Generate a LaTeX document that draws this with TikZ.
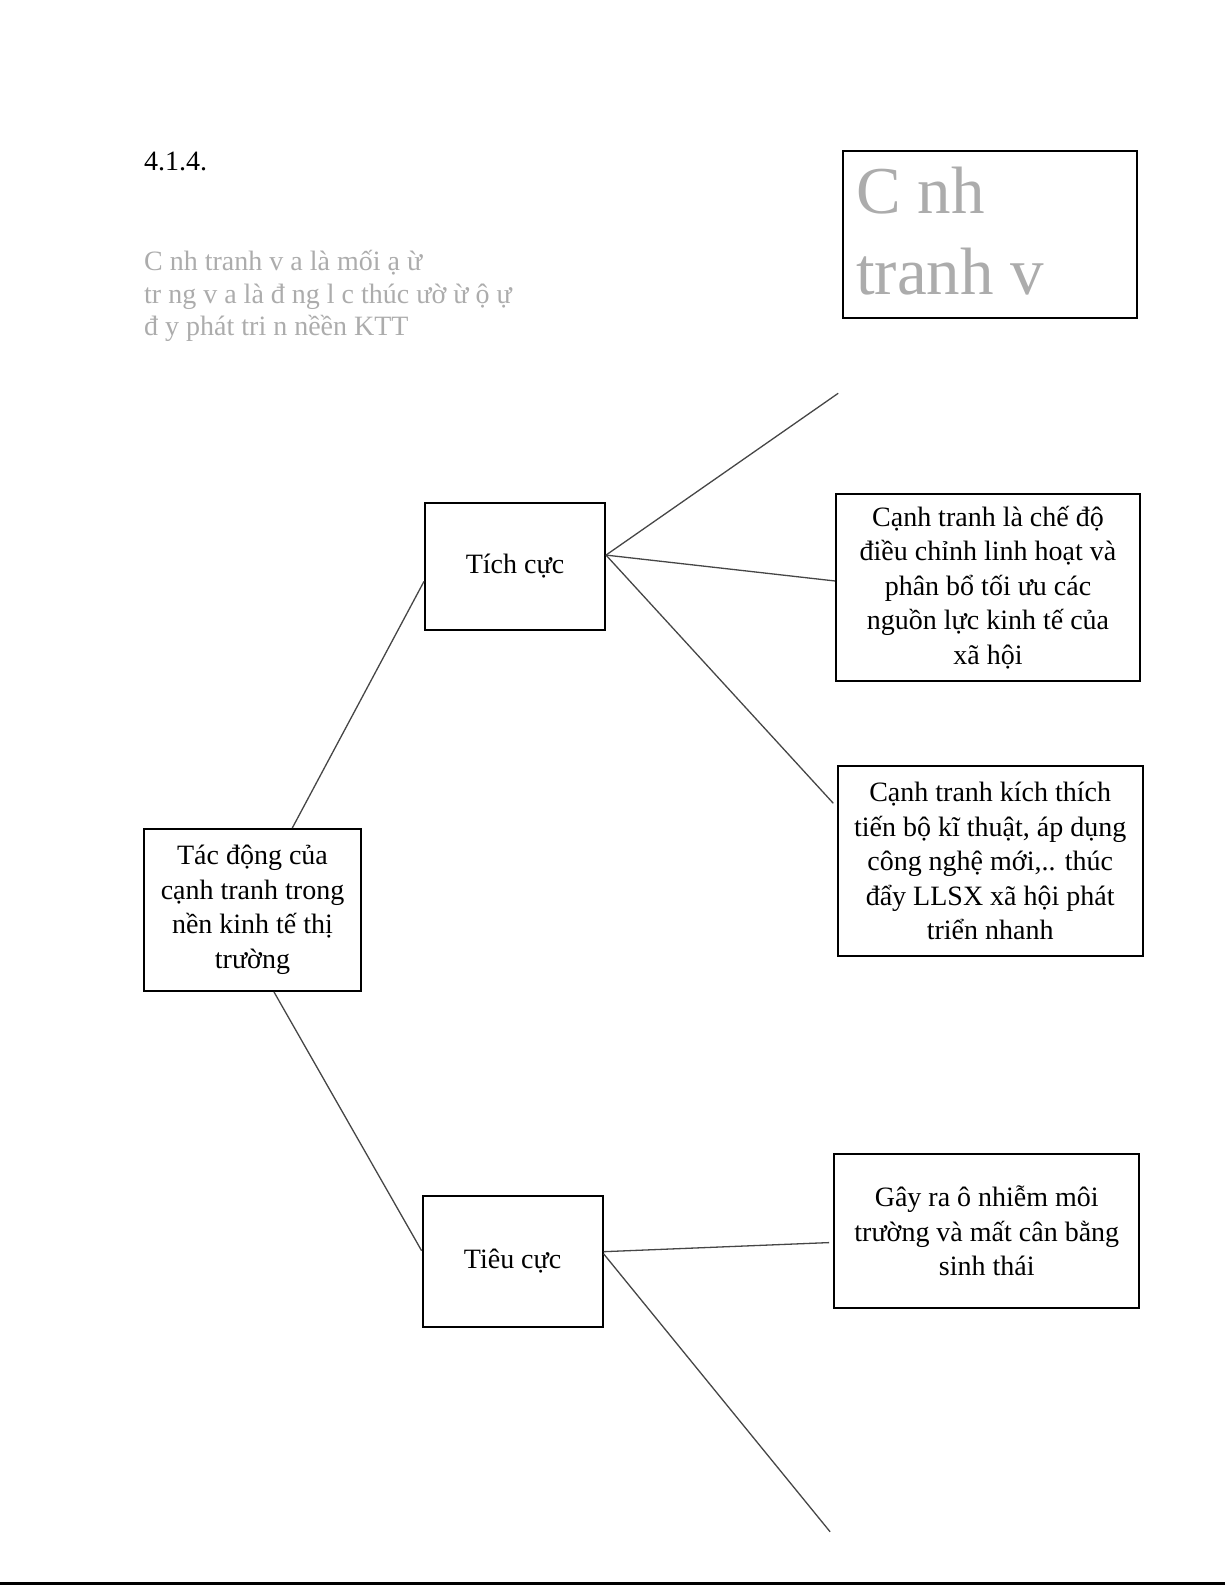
\documentclass[tikz,border=0pt]{standalone}
\usepackage{fontspec}
\setmainfont{Liberation Serif}
\definecolor{ghost}{RGB}{172,172,172}
\definecolor{wire}{RGB}{70,70,70}
\tikzset{
  box/.style={draw=black, line width=2pt, rectangle, inner sep=0pt, align=center,
    font=\fontsize{28}{34.5}\selectfont},
  wirestyle/.style={draw=wire, line width=1.3pt},
}
\begin{document}
\begin{tikzpicture}[x=1pt,y=1pt]
\useasboundingbox (0,0) rectangle (1225,1585);
% header texts
\node[anchor=base west, inner sep=0pt, font=\fontsize{28}{34.5}\selectfont] (num) at (144,1414) {4.1.4.};
\node[anchor=base west, inner sep=0pt, align=left, text=ghost, font=\fontsize{28}{32.4}\selectfont] (para) at (144,1249.5)
  {C nh tranh v a là mối ạ ừ\\tr ng v a là đ ng l c thúc ườ ừ ộ ự\\đ y phát tri n nềền KTT};
% top right gray box
\node[box, minimum width=293.5pt, minimum height=166.6pt] (b1) at (989.8,1350.7) {};
\node[anchor=base west, inner sep=0pt, align=left, text=ghost, font=\fontsize{67}{81}\selectfont] (b1t) at (856,1290)
  {C nh\\tranh v};
% diagram boxes
\node[box, minimum width=217pt, minimum height=162pt] (main) at (252.5,675)
  {Tác động của\\cạnh tranh trong\\nền kinh tế thị\\trường};
\node[box, minimum width=180pt, minimum height=127pt] (tich) at (515,1018.5) {Tích cực};
\node[box, minimum width=180pt, minimum height=130.5pt] (tieu) at (512.6,323.6) {Tiêu cực};
\node[box, minimum width=304pt, minimum height=187pt] (b2) at (988,997.5)
  {Cạnh tranh là chế độ\\điều chỉnh linh hoạt và\\phân bổ tối ưu các\\nguồn lực kinh tế của\\xã hội};
\node[box, minimum width=305pt, minimum height=190pt] (b3) at (990.2,724)
  {Cạnh tranh kích thích\\tiến bộ kĩ thuật, áp dụng\\công nghệ mới,.. thúc\\đẩy LLSX xã hội phát\\triển nhanh};
\node[box, minimum width=305.3pt, minimum height=154.7pt] (b4) at (986.8,354)
  {Gây ra ô nhiễm môi\\trường và mất cân bằng\\sinh thái};
% free ends
\coordinate (e1) at (838.2,1191.7);
\coordinate (e2) at (833.3,781.7);
\coordinate (e3) at (830.1,53.2);
% connectors
\draw[wirestyle] ([xshift=39.8pt]main.north) -- ([yshift=-14.9pt]tich.west);
\draw[wirestyle] ([xshift=21.5pt]main.south) -- ([yshift=10.7pt]tieu.west);
\draw[wirestyle] ([yshift=11.4pt]tich.east) -- (e1);
\draw[wirestyle] ([yshift=11.4pt]tich.east) -- ([yshift=6.5pt]b2.west);
\draw[wirestyle] ([yshift=11.4pt]tich.east) -- (e2);
\draw[wirestyle] ([yshift=9.7pt]tieu.east) -- ([xshift=-4pt,yshift=-11.6pt]b4.west);
\draw[wirestyle] ([yshift=7.6pt]tieu.east) -- (e3);
% bottom rule
\coordinate (rl) at (0,1.5);
\coordinate (rr) at (1225,1.5);
\draw[black, line width=2.5pt] (rl) -- (rr);
\end{tikzpicture}
\end{document}
